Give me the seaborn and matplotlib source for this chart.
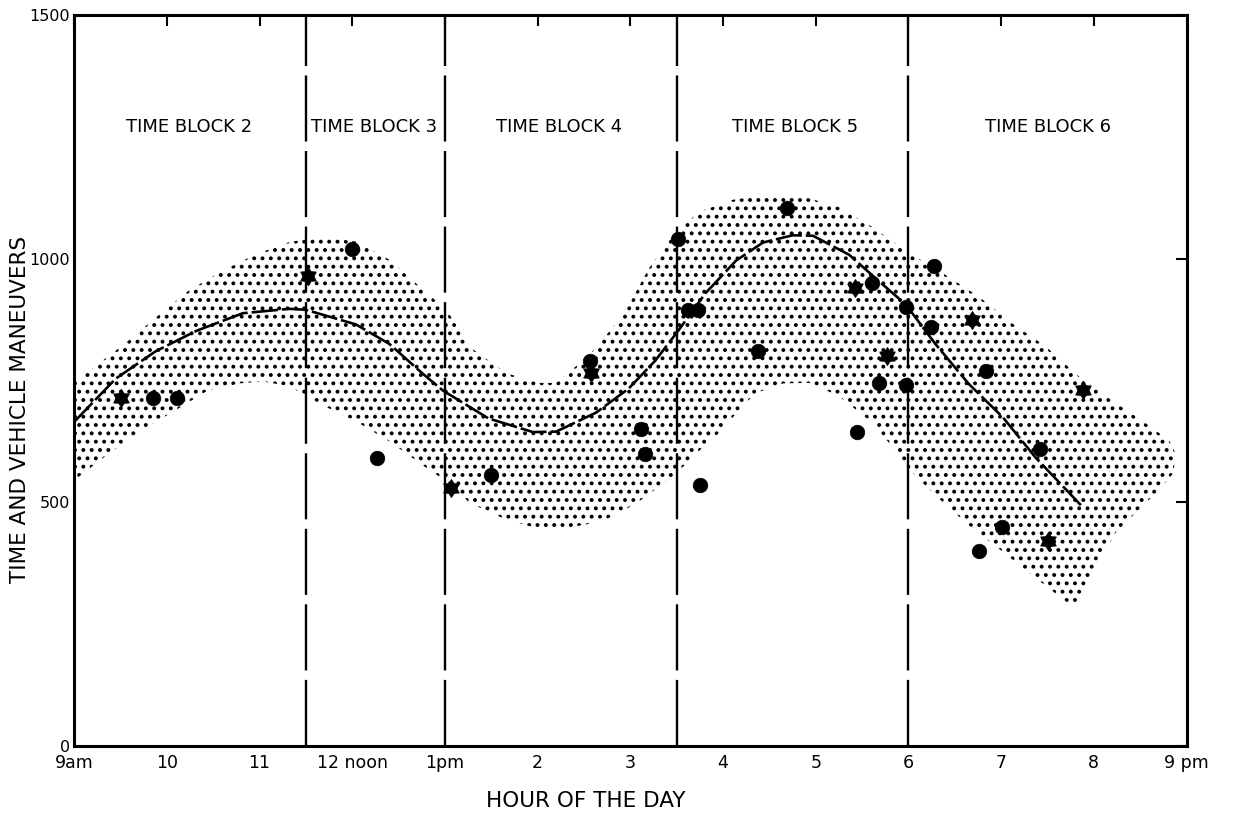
import numpy as np
import pandas as pd
import seaborn as sns
import matplotlib

matplotlib.use('Agg')
import matplotlib.pyplot as plt
from matplotlib.path import Path

sns.set_style("white")
plt.rcParams['font.family'] = ['DejaVu Sans']
plt.rcParams['hatch.linewidth'] = 1.6
for key in ['text.color', 'axes.labelcolor', 'xtick.color', 'ytick.color']:
    plt.rcParams[key] = 'black'

# observed points (hour of day, 24h clock)
obs_hour = [9.50, 9.85, 10.11, 11.52, 12.00, 12.27, 13.06, 13.50,
            14.56, 14.58, 15.12, 15.16, 15.51, 15.62, 15.73, 15.75,
            16.38, 16.69, 17.42, 17.44, 17.61, 17.68, 17.77, 17.97,
            17.97, 18.24, 18.28, 18.69, 18.76, 18.84, 19.01, 19.42,
            19.51, 19.88]
obs_value = [715, 715, 715, 965, 1020, 590, 530, 555,
             790, 765, 650, 600, 1040, 895, 895, 535,
             810, 1105, 940, 645, 950, 745, 800, 900,
             740, 860, 985, 875, 400, 770, 450, 610,
             420, 730]
obs_kind = ['star', 'dot', 'dot', 'star', 'dot', 'dot', 'star', 'dot',
            'dot', 'star', 'dot', 'dot', 'dot', 'dot', 'dot', 'dot',
            'dot', 'dot', 'star', 'dot', 'dot', 'dot', 'star', 'dot',
            'dot', 'dot', 'dot', 'star', 'dot', 'dot', 'dot', 'dot',
            'star', 'star']

# fitted curve
curve_hour = [9.0, 9.45, 9.88, 10.32, 10.82, 11.32, 11.5, 12.04, 12.40, 12.76,
              12.98, 13.47, 13.95, 14.20, 14.63, 14.98, 15.27, 15.52, 15.81,
              16.14, 16.43, 16.75, 16.97, 17.36, 17.65, 17.97, 18.29, 18.65,
              19.02, 19.37, 19.86]
curve_value = [665, 754, 810, 852, 888, 897, 895, 865, 825, 764,
               729, 672, 644, 645, 684, 733, 791, 853, 929,
               996, 1033, 1048, 1047, 1008, 959, 906, 825, 743,
               674, 592, 494]

# shaded band: upper edge and lower edge, both left to right
upper_hour = [9.0, 9.24, 9.53, 9.88, 10.24, 10.61, 10.96, 11.32, 11.68, 12.04,
              12.40, 12.76, 13.01, 13.30, 13.66, 14.01, 14.20, 14.55, 14.92,
              15.20, 15.46, 15.74, 16.11, 16.49, 16.89, 17.25, 17.61, 17.97,
              18.33, 18.76, 19.12, 19.48, 19.84, 20.20, 20.56, 20.81, 20.88,
              20.86, 20.70]
upper_value = [745, 781, 823, 879, 935, 976, 1009, 1034, 1045, 1035,
               998, 937, 896, 814, 765, 745, 745, 801, 883,
               980, 1048, 1096, 1121, 1132, 1126, 1106, 1065, 1016,
               975, 922, 867, 820, 758, 709, 662, 627, 601,
               560, 525]
lower_hour = [9.0, 9.34, 9.70, 10.07, 10.42, 10.78, 11.04, 11.32, 11.68, 12.04,
              12.40, 12.76, 13.12, 13.26, 13.63, 13.98, 14.34, 14.70, 15.06,
              15.35, 15.49, 15.71, 15.95, 16.21, 16.35, 16.65, 16.93, 17.25,
              17.61, 17.79, 18.00, 18.29, 18.65, 19.02, 19.37, 19.78, 20.24]
lower_value = [545, 595, 645, 686, 727, 744, 748, 738, 699, 666,
               625, 576, 529, 499, 467, 447, 448, 461, 497,
               538, 558, 600, 641, 697, 724, 744, 745, 718,
               663, 622, 569, 514, 453, 398, 345, 284, 439]

block_edges = [11.5, 13.0, 15.5, 18.0]
block_names = ['TIME BLOCK 2', 'TIME BLOCK 3', 'TIME BLOCK 4', 'TIME BLOCK 5', 'TIME BLOCK 6']
block_label_hour = [10.24, 12.23, 14.23, 16.78, 19.51]
block_label_value = 1270

hour_ticks = list(range(9, 22))
hour_labels = ['9am', '10', '11', '12 noon', '1pm', '2', '3', '4', '5', '6', '7', '8', '9 pm']
value_ticks = [0, 500, 1000, 1500]

df = pd.DataFrame({'hour': obs_hour, 'value': obs_value, 'kind': obs_kind})

# fat six-pointed star like the hand drawn ones
hexagram = Path.unit_regular_star(6, innerCircle=0.62)

fig = plt.figure(figsize=(12.36, 8.38), dpi=100)
ax = fig.add_axes([0.060, 0.110, 0.900, 0.872])

# stippled band
band_x = upper_hour + lower_hour[::-1]
band_y = upper_value + lower_value[::-1]
ax.fill(band_x, band_y, facecolor='none', edgecolor='black', hatch='..',
        linewidth=0, zorder=1)

# time block boundaries
for edge in block_edges:
    ax.axvline(edge, color='black', lw=1.7, ls=(0, (28, 4)), zorder=2)

sns.lineplot(x=curve_hour, y=curve_value, ax=ax, color='black', lw=1.9,
             ls=(0, (10, 1.5)), zorder=3)

sns.scatterplot(data=df[df['kind'] == 'dot'], x='hour', y='value', marker='o',
                color='black', edgecolor='black', linewidth=0.5, s=110,
                legend=False, ax=ax, zorder=4)
sns.scatterplot(data=df[df['kind'] == 'star'], x='hour', y='value', marker=hexagram,
                color='black', edgecolor='black', linewidth=0.5, s=170,
                legend=False, ax=ax, zorder=4)

for name, hx in zip(block_names, block_label_hour):
    ax.text(hx, block_label_value, name, ha='center', va='center', fontsize=13)

ax.set_xlim(9, 21)
ax.set_ylim(0, 1500)
ax.set_xticks(hour_ticks)
ax.set_xticklabels(hour_labels, fontsize=12.5)
ax.set_yticks(value_ticks)
ax.set_yticklabels([str(v) for v in value_ticks], fontsize=11.5)
ax.tick_params(direction='in', length=8, width=1.5, top=True, right=True,
               labeltop=False, labelright=False, color='black')
ax.tick_params(axis='x', pad=6)
ax.tick_params(axis='y', pad=3)
for sp in ax.spines.values():
    sp.set_linewidth(2.2)
    sp.set_color('black')

ax.set_xlabel('HOUR OF THE DAY', fontsize=15.5)
ax.set_ylabel('TIME AND VEHICLE MANEUVERS', fontsize=15.5)
ax.xaxis.set_label_coords(0.46, -0.062)
ax.yaxis.set_label_coords(-0.04, 0.46)

fig.savefig('out.png', dpi=100)
